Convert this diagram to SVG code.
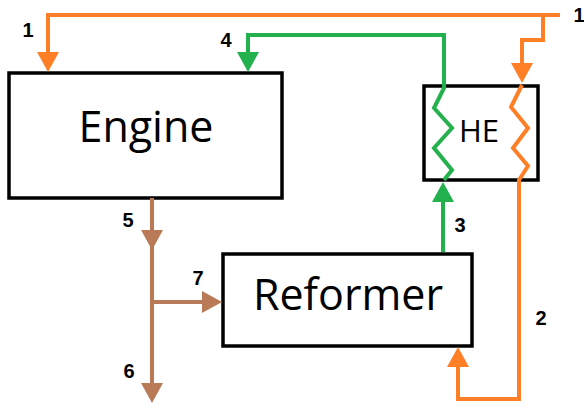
<svg xmlns="http://www.w3.org/2000/svg" width="584" height="408" viewBox="0 0 584 408">
<style>
.box{fill:#fff;stroke:#000;stroke-width:3.5}
.lbl{font-family:"Open Sans","Noto Sans",sans-serif;fill:#000;text-anchor:middle}
.num{font-family:"Liberation Sans",Arial,sans-serif;font-weight:bold;font-size:20px;fill:#000;text-anchor:middle}
.c{fill:none;stroke-width:4;stroke-linejoin:miter}
.o{stroke:#FF7F27}.g{stroke:#22B14C}.b{stroke:#B97A57}
</style>
<defs>
<marker id="ao" viewBox="0 0 20 22" refX="12" refY="11" markerWidth="20" markerHeight="22" markerUnits="userSpaceOnUse" orient="auto"><path d="M0,0 L20,11 L0,22 z" fill="#FF7F27"/></marker>
<marker id="ag" viewBox="0 0 20 22" refX="12" refY="11" markerWidth="20" markerHeight="22" markerUnits="userSpaceOnUse" orient="auto"><path d="M0,0 L20,11 L0,22 z" fill="#22B14C"/></marker>
<marker id="ab" viewBox="0 0 20 22" refX="12" refY="11" markerWidth="20" markerHeight="22" markerUnits="userSpaceOnUse" orient="auto"><path d="M0,0 L20,11 L0,22 z" fill="#B97A57"/></marker>
</defs>
<g id="engine"><rect class="box" x="9" y="73" width="273" height="125"/><text class="lbl" x="146" y="142" font-size="43">Engine</text></g>
<g id="he"><rect class="box" x="424" y="86" width="114" height="94"/><text class="lbl" x="479" y="142" font-size="31">HE</text></g>
<g id="reformer"><rect class="box" x="223" y="254" width="249" height="92"/><text class="lbl" x="348" y="310" font-size="43">Reformer</text></g>
<g id="connectors">
<path class="c o" d="M560,15 H48 V64" marker-end="url(#ao)"/>
<path class="c o" d="M543,15 V40 H522 V75" marker-end="url(#ao)"/>
<path class="c o" d="M522,85 L511,107 L528,128 L513,148 L528,166 L519,180 V399 H458 V355" marker-end="url(#ao)"/>
<path class="c g" d="M443,252 V190" marker-end="url(#ag)"/>
<path class="c g" d="M444,180 L452,170 L434,148 L452,128 L434,108 L444,88 V35 H248 V64" marker-end="url(#ag)"/>
<path class="c b" d="M152,198 V242" marker-end="url(#ab)"/>
<path class="c b" d="M152,240 V395" marker-end="url(#ab)"/>
<path class="c b" d="M152,302 H214" marker-end="url(#ab)"/>
</g>
<g id="labels">
<text class="num" x="28" y="37">1</text>
<text class="num" x="579" y="22">1</text>
<text class="num" x="226" y="47">4</text>
<text class="num" x="128" y="227">5</text>
<text class="num" x="198" y="285">7</text>
<text class="num" x="129" y="378">6</text>
<text class="num" x="460" y="232">3</text>
<text class="num" x="541" y="325">2</text>
</g>
</svg>
